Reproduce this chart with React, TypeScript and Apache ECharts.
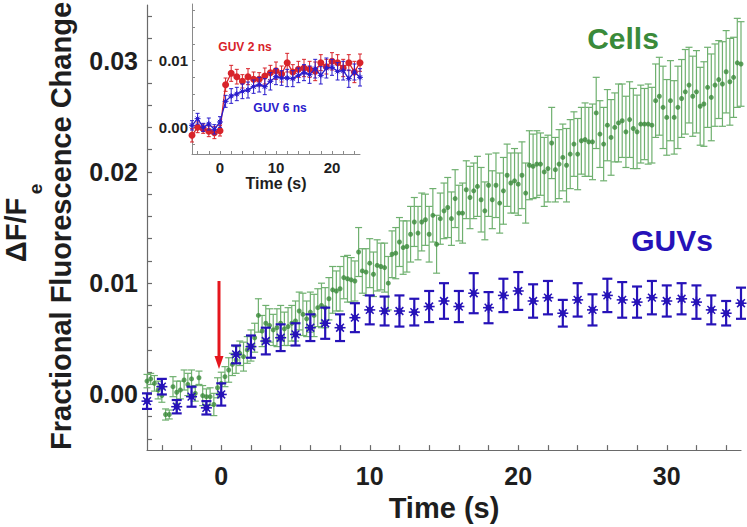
import React, { useEffect, useRef } from 'react';
import * as echarts from 'echarts';

// ---------- Main chart data ----------
const CELL_T0 = -5;
const CELL_DT = 0.25;
// Cells: mean fractional change, sampled every 0.25 s from -5 s to 35 s
const cellsValues = [
  0.0012, 0.0014, 0.0010, 0.0004, -0.0001, -0.0018, -0.0018, 0.0007,
  0.0002, 0.0004, 0.0013, 0.0009, 0.0014, 0.0001, 0.0015, -0.0001,
  -0.0002, -0.0002, -0.0009, 0.0006, 0.0010, 0.0016, 0.0022, 0.0027,
  0.0031, 0.0037, 0.0034, 0.0040, 0.0044, 0.0051, 0.0071, 0.0057,
  0.0064, 0.0062, 0.0058, 0.0060, 0.0064, 0.0059, 0.0061, 0.0064,
  0.0066, 0.0075, 0.0072, 0.0068, 0.0074, 0.0071, 0.0078, 0.0080,
  0.0078, 0.0086, 0.0094, 0.0093, 0.0095, 0.0105, 0.0104, 0.0103,
  0.0102, 0.0128, 0.0111, 0.0110, 0.0118, 0.0108, 0.0116, 0.0115,
  0.0114, 0.0100, 0.0126, 0.0127, 0.0137, 0.0132, 0.0133, 0.0144,
  0.0155, 0.0145, 0.0155, 0.0157, 0.0144, 0.0161, 0.0135, 0.0158,
  0.0165, 0.0168, 0.0158, 0.0176, 0.0163, 0.0163, 0.0184, 0.0177,
  0.0183, 0.0187, 0.0175, 0.0165, 0.0188, 0.0175, 0.0188, 0.0172,
  0.0183, 0.0197, 0.0190, 0.0192, 0.0189, 0.0197, 0.0181, 0.0206,
  0.0205, 0.0207, 0.0207, 0.0200, 0.0203, 0.0226, 0.0202, 0.0207,
  0.0213, 0.0206, 0.0216, 0.0225, 0.0216, 0.0228, 0.0229, 0.0227,
  0.0227, 0.0253, 0.0234, 0.0225, 0.0242, 0.0231, 0.0240, 0.0244,
  0.0246, 0.0236, 0.0247, 0.0239, 0.0236, 0.0243, 0.0243, 0.0243,
  0.0242, 0.0264, 0.0268, 0.0258, 0.0249, 0.0264, 0.0249, 0.0258,
  0.0266, 0.0272, 0.0278, 0.0268, 0.0272, 0.0259, 0.0261, 0.0276,
  0.0267, 0.0278, 0.0283, 0.0279, 0.0290, 0.0281, 0.0285, 0.0298,
  0.0297,
];
const cellsErrors = [
  0.0006, 0.0005, 0.0007, 0.0008, 0.0006, 0.0005, 0.0004, 0.0009,
  0.0010, 0.0008, 0.0009, 0.0010, 0.0008, 0.0007, 0.0006, 0.0009,
  0.0007, 0.0008, 0.0010, 0.0009, 0.0010, 0.0009, 0.0011, 0.0010,
  0.0012, 0.0011, 0.0013, 0.0012, 0.0014, 0.0013, 0.0015, 0.0014,
  0.0016, 0.0015, 0.0014, 0.0017, 0.0016, 0.0015, 0.0017, 0.0016,
  0.0018, 0.0017, 0.0019, 0.0016, 0.0018, 0.0019, 0.0017, 0.0020,
  0.0018, 0.0019, 0.0021, 0.0018, 0.0020, 0.0019, 0.0021, 0.0020,
  0.0018, 0.0022, 0.0020, 0.0021, 0.0022, 0.0020, 0.0023, 0.0021,
  0.0022, 0.0024, 0.0021, 0.0023, 0.0022, 0.0024, 0.0023, 0.0025,
  0.0022, 0.0024, 0.0026, 0.0023, 0.0025, 0.0024, 0.0026, 0.0023,
  0.0025, 0.0027, 0.0024, 0.0026, 0.0025, 0.0027, 0.0026, 0.0028,
  0.0025, 0.0027, 0.0029, 0.0026, 0.0028, 0.0026, 0.0029, 0.0027,
  0.0030, 0.0028, 0.0027, 0.0029, 0.0028, 0.0030, 0.0027, 0.0031,
  0.0029, 0.0030, 0.0028, 0.0031, 0.0030, 0.0032, 0.0029, 0.0031,
  0.0030, 0.0033, 0.0031, 0.0029, 0.0032, 0.0030, 0.0033, 0.0031,
  0.0034, 0.0032, 0.0030, 0.0033, 0.0032, 0.0034, 0.0031, 0.0035,
  0.0033, 0.0032, 0.0034, 0.0036, 0.0033, 0.0035, 0.0032, 0.0036,
  0.0034, 0.0033, 0.0035, 0.0037, 0.0034, 0.0036, 0.0033, 0.0037,
  0.0035, 0.0038, 0.0034, 0.0036, 0.0037, 0.0035, 0.0038, 0.0036,
  0.0039, 0.0037, 0.0035, 0.0038, 0.0037, 0.0039, 0.0036, 0.0040,
  0.0038,
];

// GUVs: one point per second, -5 s .. 35 s
const GUV_T0 = -5;
const guvValues = [
  -0.0006, 0.0007, -0.0011, -0.0002, -0.0012, 0.0000, 0.0036, 0.0043, 0.0048, 0.0051,
  0.0054, 0.0060, 0.0064, 0.0060, 0.0069, 0.0076, 0.0075, 0.0075, 0.0074, 0.0079,
  0.0084, 0.0079, 0.0091, 0.0078, 0.0089, 0.0093, 0.0084, 0.0087, 0.0073, 0.0085,
  0.0076, 0.0089, 0.0085, 0.0083, 0.0087, 0.0084, 0.0086, 0.0083, 0.0076, 0.0073,
  0.0082,
];
const guvErrors = [
  0.0007, 0.0007, 0.0006, 0.0009, 0.0006, 0.0010, 0.0008, 0.0010, 0.0012, 0.0012,
  0.0010, 0.0012, 0.0014, 0.0012, 0.0013, 0.0013, 0.0013, 0.0014, 0.0012, 0.0014,
  0.0016, 0.0014, 0.0018, 0.0014, 0.0015, 0.0017, 0.0015, 0.0015, 0.0012, 0.0015,
  0.0014, 0.0015, 0.0016, 0.0014, 0.0015, 0.0014, 0.0014, 0.0015, 0.0013, 0.0011,
  0.0014,
];

// ---------- Inset data: -5 s .. 25 s, 1 s steps ----------
const INSET_T0 = -5;
const guv2nsValues = [
  -0.0012, 0.0000, -0.0002, -0.0006, -0.0008, -0.0005, 0.0064, 0.0081, 0.0076, 0.0069,
  0.0076, 0.0072, 0.0072, 0.0077, 0.0082, 0.0085, 0.0080, 0.0097, 0.0083, 0.0087,
  0.0089, 0.0087, 0.0084, 0.0097, 0.0091, 0.0099, 0.0097, 0.0089, 0.0097, 0.0083,
  0.0097,
];
const guv2nsErrors = [
  0.0010, 0.0008, 0.0007, 0.0008, 0.0009, 0.0008, 0.0010, 0.0012, 0.0011, 0.0010,
  0.0012, 0.0011, 0.0010, 0.0012, 0.0011, 0.0013, 0.0012, 0.0014, 0.0011, 0.0012,
  0.0013, 0.0012, 0.0014, 0.0012, 0.0011, 0.0013, 0.0012, 0.0013, 0.0012, 0.0016,
  0.0013,
];
const guv6nsValues = [
  0.0003, 0.0013, 0.0000, 0.0005, -0.0003, 0.0008, 0.0039, 0.0047, 0.0050, 0.0054,
  0.0056, 0.0061, 0.0064, 0.0061, 0.0069, 0.0076, 0.0074, 0.0074, 0.0073, 0.0078,
  0.0082, 0.0079, 0.0088, 0.0078, 0.0089, 0.0090, 0.0084, 0.0085, 0.0073, 0.0083,
  0.0075,
];
const guv6nsErrors = [
  0.0007, 0.0008, 0.0006, 0.0009, 0.0007, 0.0008, 0.0009, 0.0011, 0.0010, 0.0011,
  0.0012, 0.0010, 0.0011, 0.0012, 0.0013, 0.0012, 0.0011, 0.0013, 0.0012, 0.0011,
  0.0012, 0.0013, 0.0014, 0.0013, 0.0015, 0.0012, 0.0013, 0.0014, 0.0013, 0.0012,
  0.0013,
];

// ---------- Ticks ----------
const mainXTicks = [-4, -2, 0, 2, 4, 6, 8, 10, 12, 14, 16, 18, 20, 22, 24, 26, 28, 30, 32, 34];
const mainXLabels = [0, 10, 20, 30];
const mainYTicks = [
  -0.004, -0.002, 0, 0.002, 0.004, 0.006, 0.008, 0.01, 0.012, 0.014, 0.016, 0.018,
  0.02, 0.022, 0.024, 0.026, 0.028, 0.03, 0.032, 0.034,
];
const mainYLabels = [0, 0.01, 0.02, 0.03];
const insetXTicks = [-4, -2, 0, 2, 4, 6, 8, 10, 12, 14, 16, 18, 20, 22, 24];
const insetXLabels = [0, 10, 20];
const insetYTicks = [-0.0025, 0, 0.0025, 0.005, 0.0075, 0.01, 0.0125, 0.015, 0.0175];
const insetYLabels = [0, 0.01];

const FONT = '"Liberation Sans", Arial, Helvetica, sans-serif';
const GREEN = '#3a8a3a';
const GREEN_BAR = '#6fb06f';
const BLUE = '#2612b8';
const INSET_RED = '#d8232a';
const INSET_BLUE = '#2a1ccc';
const AXIS = '#6a6a6a';

function withErr(t0: number, dt: number, vals: number[], errs: number[]) {
  return vals.map((v, i) => [t0 + i * dt, v, errs[i]]);
}

function errorBarRenderer(color: string, lw: number, capHalf: number, marker?: 'asterisk', markerR?: number, markerColor?: string) {
  return (params: any, api: any) => {
    const x = api.value(0);
    const y = api.value(1);
    const e = api.value(2);
    const p1 = api.coord([x, y + e]);
    const p2 = api.coord([x, y - e]);
    const c = api.coord([x, y]);
    const st = { stroke: color, lineWidth: lw };
    const children: any[] = [
      { type: 'line', shape: { x1: p1[0], y1: p1[1], x2: p2[0], y2: p2[1] }, style: st },
      { type: 'line', shape: { x1: p1[0] - capHalf, y1: p1[1], x2: p1[0] + capHalf, y2: p1[1] }, style: st },
      { type: 'line', shape: { x1: p2[0] - capHalf, y1: p2[1], x2: p2[0] + capHalf, y2: p2[1] }, style: st },
    ];
    if (marker === 'asterisk') {
      const r = markerR || 5;
      const mc = markerColor || color;
      const ms = { stroke: mc, lineWidth: Math.max(1, lw * 0.7) };
      const angles = [0, Math.PI / 4, Math.PI / 2, (3 * Math.PI) / 4];
      angles.forEach((a) => {
        const dx = Math.cos(a) * r;
        const dy = Math.sin(a) * r;
        children.push({ type: 'line', shape: { x1: c[0] - dx, y1: c[1] - dy, x2: c[0] + dx, y2: c[1] + dy }, style: ms });
      });
      children.push({ type: 'circle', shape: { cx: c[0], cy: c[1], r: r * 0.55 }, style: { fill: mc } });
    }
    return { type: 'group', children };
  };
}

export default function App() {
  const ref = useRef<HTMLDivElement>(null);
  useEffect(() => {
    document.body.style.margin = '0';
    if (!ref.current) return;
    const chart = echarts.init(ref.current, undefined, { renderer: 'svg' });

    const cellsData = withErr(CELL_T0, CELL_DT, cellsValues, cellsErrors);
    const guvData = withErr(GUV_T0, 1, guvValues, guvErrors);
    const g2 = withErr(INSET_T0, 1, guv2nsValues, guv2nsErrors);
    const g6 = withErr(INSET_T0, 1, guv6nsValues, guv6nsErrors);

    const mainLabelStyle = { fontFamily: FONT, fontWeight: 'bold' as const, fontSize: 25, color: '#1e1e1e' };
    const insetLabelStyle = { fontFamily: FONT, fontWeight: 'bold' as const, fontSize: 15, color: '#1e1e1e' };

    const option: any = {
      animation: false,
      backgroundColor: '#ffffff',
      grid: [
        { left: 147, top: 5, width: 594, height: 446 },
        { left: 192, top: 4, width: 168, height: 150 },
      ],
      xAxis: [
        {
          type: 'value', gridIndex: 0, min: -5, max: 35,
          splitLine: { show: false },
          axisLine: { show: true, onZero: false, lineStyle: { color: AXIS, width: 1.2 } },
          axisTick: { show: true, inside: true, length: 5, customValues: mainXTicks, lineStyle: { color: AXIS, width: 1.2 } },
          axisLabel: { ...mainLabelStyle, margin: 13, customValues: mainXLabels, formatter: (v: number) => String(v) },
          name: 'Time (s)', nameLocation: 'middle', nameGap: 42,
          nameTextStyle: { fontFamily: FONT, fontWeight: 'bold', fontSize: 29, color: '#1e1e1e' },
        },
        {
          type: 'value', gridIndex: 1, min: -5, max: 25,
          splitLine: { show: false },
          axisLine: { show: true, onZero: false, lineStyle: { color: '#8a8a8a', width: 1 } },
          axisTick: { show: true, inside: true, length: 3, customValues: insetXTicks, lineStyle: { color: '#8a8a8a', width: 1 } },
          axisLabel: { ...insetLabelStyle, margin: 6, customValues: insetXLabels, formatter: (v: number) => String(v) },
          name: 'Time (s)', nameLocation: 'middle', nameGap: 20,
          nameTextStyle: { fontFamily: FONT, fontWeight: 'bold', fontSize: 16, color: '#1e1e1e' },
        },
      ],
      yAxis: [
        {
          type: 'value', gridIndex: 0, min: -0.005, max: 0.035,
          splitLine: { show: false },
          axisLine: { show: true, onZero: false, lineStyle: { color: AXIS, width: 1.2 } },
          axisTick: { show: true, inside: true, length: 5, customValues: mainYTicks, lineStyle: { color: AXIS, width: 1.2 } },
          axisLabel: { ...mainLabelStyle, margin: 9, customValues: mainYLabels, formatter: (v: number) => v.toFixed(2) },
        },
        {
          type: 'value', gridIndex: 1, min: -0.004, max: 0.0185,
          splitLine: { show: false },
          axisLine: { show: true, onZero: false, lineStyle: { color: '#8a8a8a', width: 1 } },
          axisTick: { show: true, inside: true, length: 3, customValues: insetYTicks, lineStyle: { color: '#8a8a8a', width: 1 } },
          axisLabel: { ...insetLabelStyle, margin: 4, customValues: insetYLabels, formatter: (v: number) => v.toFixed(2) },
        },
      ],
      series: [
        {
          type: 'custom', name: 'Cells error', xAxisIndex: 0, yAxisIndex: 0, silent: true,
          data: cellsData, encode: { x: 0, y: 1 }, z: 2,
          renderItem: errorBarRenderer(GREEN_BAR, 1.2, 3.5),
        },
        {
          type: 'scatter', name: 'Cells', xAxisIndex: 0, yAxisIndex: 0, silent: true,
          data: cellsData.map((d) => [d[0], d[1]]), symbol: 'circle', symbolSize: 5,
          itemStyle: { color: GREEN }, z: 3,
        },
        {
          type: 'custom', name: 'GUVs', xAxisIndex: 0, yAxisIndex: 0, silent: true,
          data: guvData, encode: { x: 0, y: 1 }, z: 4,
          renderItem: errorBarRenderer(BLUE, 2.2, 5, 'asterisk', 5.5, BLUE),
        },
        // inset
        {
          type: 'custom', name: 'GUV 2 ns error', xAxisIndex: 1, yAxisIndex: 1, silent: true,
          data: g2, encode: { x: 0, y: 1 }, z: 5,
          renderItem: errorBarRenderer(INSET_RED, 1, 2),
        },
        {
          type: 'line', name: 'GUV 2 ns', xAxisIndex: 1, yAxisIndex: 1, silent: true,
          data: g2.map((d) => [d[0], d[1]]), symbol: 'circle', symbolSize: 7, showSymbol: true,
          lineStyle: { color: INSET_RED, width: 1.3 }, itemStyle: { color: INSET_RED }, z: 6,
        },
        {
          type: 'line', name: 'GUV 6 ns', xAxisIndex: 1, yAxisIndex: 1, silent: true,
          data: g6.map((d) => [d[0], d[1]]), symbol: 'none',
          lineStyle: { color: INSET_BLUE, width: 1.3 }, z: 7,
        },
        {
          type: 'custom', name: 'GUV 6 ns error', xAxisIndex: 1, yAxisIndex: 1, silent: true,
          data: g6, encode: { x: 0, y: 1 }, z: 8,
          renderItem: errorBarRenderer(INSET_BLUE, 1, 2, 'asterisk', 3, INSET_BLUE),
        },
      ],
      graphic: [
        {
          type: 'text', x: 61, y: 226, rotation: Math.PI / 2, z: 10,
          style: { text: 'Fractional Fluorescence Change', fontFamily: FONT, fontWeight: 'bold', fontSize: 29, fill: '#1e1e1e', align: 'center', verticalAlign: 'middle' },
        },
        {
          type: 'text', x: 16, y: 230, rotation: Math.PI / 2, z: 10,
          style: { text: 'ΔF/F', fontFamily: FONT, fontWeight: 'bold', fontSize: 29, fill: '#1e1e1e', align: 'center', verticalAlign: 'middle' },
        },
        {
          type: 'text', x: 35, y: 189, rotation: Math.PI / 2, z: 10,
          style: { text: 'e', fontFamily: FONT, fontWeight: 'bold', fontSize: 19, fill: '#1e1e1e', align: 'center', verticalAlign: 'middle' },
        },
        {
          type: 'text', x: 623, y: 38, z: 10,
          style: { text: 'Cells', fontFamily: FONT, fontWeight: 'bold', fontSize: 30, fill: GREEN, align: 'center', verticalAlign: 'middle' },
        },
        {
          type: 'text', x: 672, y: 240, z: 10,
          style: { text: 'GUVs', fontFamily: FONT, fontWeight: 'bold', fontSize: 30, fill: BLUE, align: 'center', verticalAlign: 'middle' },
        },
        {
          type: 'text', x: 245, y: 47, z: 10,
          style: { text: 'GUV 2 ns', fontFamily: FONT, fontWeight: 'bold', fontSize: 12, fill: INSET_RED, align: 'center', verticalAlign: 'middle' },
        },
        {
          type: 'text', x: 280, y: 108, z: 10,
          style: { text: 'GUV 6 ns', fontFamily: FONT, fontWeight: 'bold', fontSize: 12, fill: INSET_BLUE, align: 'center', verticalAlign: 'middle' },
        },
        {
          type: 'line', z: 10,
          shape: { x1: 219, y1: 281, x2: 219, y2: 359 },
          style: { stroke: '#e5161d', lineWidth: 3 },
        },
        {
          type: 'polygon', z: 10,
          shape: { points: [[214.5, 356], [223.5, 356], [219, 369]] },
          style: { fill: '#e5161d' },
        },
      ],
    };
    chart.setOption(option);
    return () => chart.dispose();
  }, []);
  return <div ref={ref} style={{ width: 747, height: 527 }} />;
}
